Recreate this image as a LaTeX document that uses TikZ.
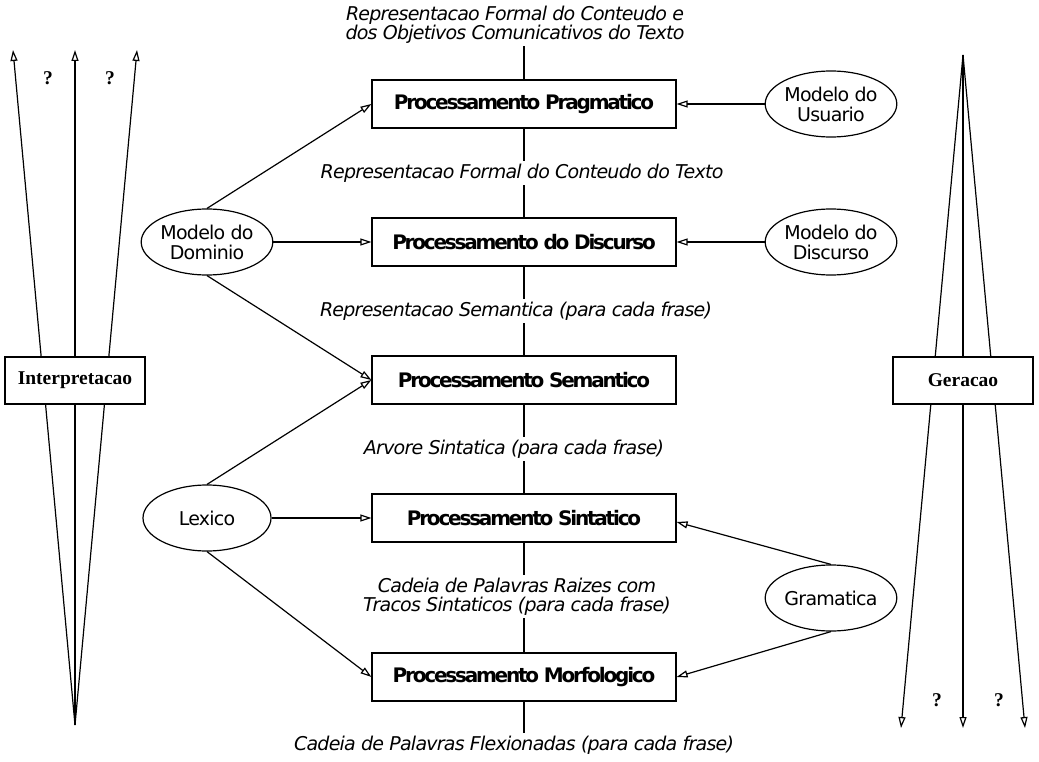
\documentclass[tikz,border=0pt]{standalone}
\usepackage{fontspec}
\setmainfont{DejaVu Sans}
\newfontfamily\serifb{Liberation Serif}
\newfontfamily\boxfont[LetterSpace=-11]{DejaVu Sans}
\newfontfamily\labfont[LetterSpace=-4]{DejaVu Sans}
\newfontfamily\ellfont[LetterSpace=-4]{DejaVu Sans}
\usetikzlibrary{arrows.meta,shapes.geometric}
\begin{document}
\begin{tikzpicture}[x=1pt,y=-1pt,
  line width=1.2pt,
  tip/.style={-{Triangle[open,length=11pt,width=7pt]}},
  procbox/.style={draw,fill=white,minimum width=304pt,minimum height=48pt,inner sep=0pt,
    font=\boxfont\fontsize{20}{22}\selectfont\bfseries},
  lab/.style={fill=white,inner sep=2pt,align=center,
    font=\labfont\fontsize{19}{19}\selectfont\itshape},
  ell/.style={draw,fill=white,ellipse,minimum width=128pt,minimum height=66pt,inner sep=0pt,align=center,
    font=\ellfont\fontsize{19}{20}\selectfont},
  sidebox/.style={draw,fill=white,minimum width=140pt,minimum height=47pt,inner sep=0pt,
    font=\fontsize{19.5}{22}\selectfont\serifb\bfseries},
  qm/.style={font=\fontsize{19.5}{22}\selectfont\serifb\bfseries}]
\useasboundingbox (0,0) rectangle (1039,762);
% labels
\node[lab] (l0) at (515,25) {Representacao Formal do Conteudo e\\dos Objetivos Comunicativos do Texto};
\node[lab] (l1) at (522,173) {Representacao Formal do Conteudo do Texto};
\node[lab] (l2) at (516,311) {Representacao Semantica (para cada frase)};
\node[lab] (l3) at (514,449) {Arvore Sintatica (para cada frase)};
\node[lab] (l4) at (517,596.5) {Cadeia de Palavras Raizes com\\Tracos Sintaticos (para cada frase)};
\node[lab] (l5) at (514,745) {Cadeia de Palavras Flexionadas (para cada frase)};
% boxes
\node[procbox] (prag) at (524,104) {Processamento Pragmatico};
\node[procbox] (disc) at (524,242) {Processamento do Discurso};
\node[procbox] (sem) at (524,380) {Processamento Semantico};
\node[procbox] (sint) at (524,518) {Processamento Sintatico};
\node[procbox] (morf) at (524,677) {Processamento Morfologico};
% spine
\draw (prag.north) -- (prag.north |- l0.south);
\draw (prag.south) -- (prag.south |- l1.north);
\draw (disc.north) -- (disc.north |- l1.south);
\draw (disc.south) -- (disc.south |- l2.north);
\draw (sem.north) -- (sem.north |- l2.south);
\draw (sem.south) -- (sem.south |- l3.north);
\draw (sint.north) -- (sint.north |- l3.south);
\draw (sint.south) -- (sint.south |- l4.north);
\draw (morf.north) -- (morf.north |- l4.south);
\draw (morf.south) -- (morf.south |- l5.north);
% ellipses
\node[ell] (usu) at (831,104) {Modelo do\\Usuario};
\node[ell] (mdisc) at (831,242) {Modelo do\\Discurso};
\node[ell] (dom) at (207,242) {Modelo do\\Dominio};
\node[ell] (lex) at (207,518) {Lexico};
\node[ell] (gram) at (831,598) {Gramatica};
% connectors
\draw[tip] (dom.north) -- (prag.west);
\draw[tip] (dom.east) -- (disc.west);
\draw[tip] (dom.south) -- (sem.west);
\draw[tip] (lex.north) -- (sem.west);
\draw[tip] (lex.east) -- (sint.west);
\draw[tip] (lex.south) -- (morf.west);
\draw[tip] (usu.west) -- (prag.east);
\draw[tip] (mdisc.west) -- (disc.east);
\draw[tip] (gram.north) -- ([yshift=-4pt]sint.east);
\draw[tip] (gram.south) -- (morf.east);
% left side
\coordinate (ib) at (75,725);
\coordinate (it1) at (13,50);
\coordinate (it2) at (75,50);
\coordinate (it3) at (137,50);
\draw[tip] (ib) -- (it1);
\draw[tip] (ib) -- (it2);
\draw[tip] (ib) -- (it3);
\node[sidebox] (interp) at (75,380.5) {Interpretacao};
\node[qm] (q1) at (48,78) {?};
\node[qm] (q2) at (110,78) {?};
% right side
\coordinate (gt) at (963,55);
\coordinate (gb1) at (901,728);
\coordinate (gb2) at (963,728);
\coordinate (gb3) at (1025,728);
\draw[tip] (gt) -- (gb1);
\draw[tip] (gt) -- (gb2);
\draw[tip] (gt) -- (gb3);
\node[sidebox] (ger) at (963,380.5) {Geracao};
\node[qm] (q3) at (937,700) {?};
\node[qm] (q4) at (999,700) {?};
\end{tikzpicture}
\end{document}
